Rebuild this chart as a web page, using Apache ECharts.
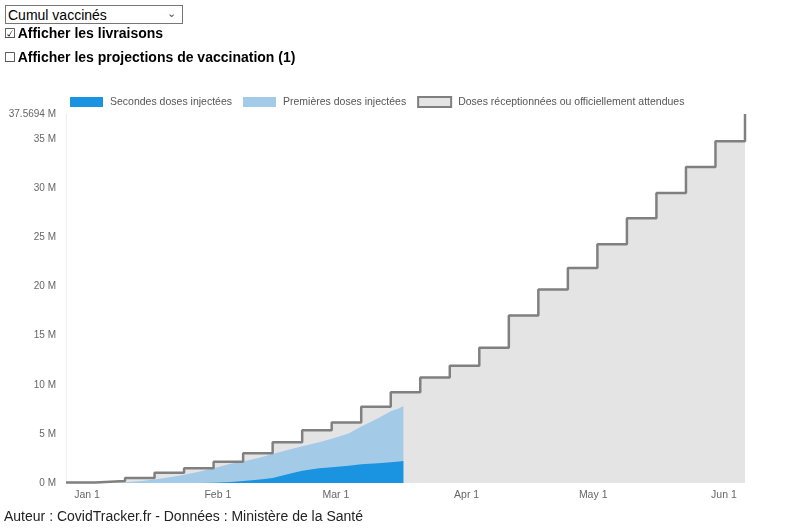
<!DOCTYPE html>
<html>
<head>
<meta charset="utf-8">
<script src="https://cdn.jsdelivr.net/npm/echarts@6/dist/echarts.min.js"></script>
<style>
body { margin: 0; font-family: "Liberation Sans", Arial, sans-serif; background: #fff; }
#main { position: absolute; left: 0; top: 0; width: 800px; height: 528px; }
.ctl { position: absolute; z-index: 2; font-size: 14px; color: #000; }
#mode { left: 5px; top: 5px; width: 178px; height: 19px; font-family: "Liberation Sans", Arial, sans-serif; font-size: 14px; padding: 0 0 0 2px; margin: 0; border: 1px solid #767676; border-radius: 0; background: #fff; -webkit-appearance: none; appearance: none; }
#chev { left: 167px; top: 7px; font-size: 11px; color: #555; font-family: "DejaVu Sans", sans-serif; }
label.ctl { left: 4px; font-weight: bold; height: 20px; line-height: 20px; }
.box { font-family: "DejaVu Sans", sans-serif; font-weight: normal; font-size: 13px; margin: 0 2px 0 0; color: #222; }
#source { left: 4px; top: 508px; color: #222; }
</style>
</head>
<body>
<div id="main"></div>
<select id="mode" class="ctl"><option>Cumul vaccinés</option></select>
<span id="chev" class="ctl">⌄</span>
<label class="ctl" style="top:23px"><span class="box">☑</span>Afficher les livraisons</label>
<label class="ctl" style="top:47px"><span class="box">☐</span>Afficher les projections de vaccination (1)</label>
<div id="source" class="ctl">Auteur : CovidTracker.fr - Données : Ministère de la Santé</div>
<script>
// livraisons (cumul, millions de doses), une marche par semaine
var deliveryDates = ['2020-12-27', '2021-01-03', '2021-01-10', '2021-01-17', '2021-01-24', '2021-01-31',
    '2021-02-07', '2021-02-14', '2021-02-21', '2021-02-28', '2021-03-07', '2021-03-14', '2021-03-21',
    '2021-03-28', '2021-04-04', '2021-04-11', '2021-04-18', '2021-04-25', '2021-05-02', '2021-05-09',
    '2021-05-16', '2021-05-23', '2021-05-30', '2021-06-06'];
var deliveries = [0.04, 0.2, 0.5, 1.05, 1.5, 2.17, 3.02, 4.14, 5.36, 6.17, 7.76, 9.23, 10.75,
    11.93, 13.76, 17.06, 19.7, 21.9, 24.31, 26.96, 29.53, 32.18, 34.79, 37.5694];

// injections (cumul, millions)
var vacDates = ['2020-12-27', '2021-01-03', '2021-01-07', '2021-01-10', '2021-01-14', '2021-01-17',
    '2021-01-21', '2021-01-24', '2021-01-28', '2021-01-31', '2021-02-04', '2021-02-07', '2021-02-11',
    '2021-02-14', '2021-02-18', '2021-02-21', '2021-02-25', '2021-02-28', '2021-03-04', '2021-03-07',
    '2021-03-11', '2021-03-14', '2021-03-16', '2021-03-17'];
var secondDoses = [0, 0, 0, 0, 0, 0, 0, 0, 0, 0.03, 0.1, 0.2, 0.35,
    0.5, 0.95, 1.25, 1.5, 1.6, 1.75, 1.9, 2.0, 2.1, 2.18, 2.24];
var firstDoses = [0, 0.002, 0.01, 0.08, 0.2, 0.35, 0.6, 0.85, 1.2, 1.47, 1.85, 2.0, 2.25,
    2.45, 2.45, 2.5, 2.65, 2.9, 3.3, 3.85, 4.6, 5.2, 5.42, 5.61];

var monthTicks = ['2021-01-01', '2021-02-01', '2021-03-01', '2021-04-01', '2021-05-01', '2021-06-01'];
var monthNames = ['Jan', 'Feb', 'Mar', 'Apr', 'May', 'Jun', 'Jul', 'Aug', 'Sep', 'Oct', 'Nov', 'Dec'];
var xStart = '2020-12-27', xEnd = '2021-06-06';

function ts(s) { return new Date(s + 'T00:00:00Z').getTime(); }
function pairs(dates, vals) {
    return dates.map(function(d, i) { return [ts(d), vals[i]]; });
}
// premières doses empilées au-dessus des secondes (axe x numérique, on empile à la main)
var stackedFirst = firstDoses.map(function(v, i) { return v + secondDoses[i]; });

var myChart = echarts.init(document.getElementById('main'));
var labelFont = {color: '#666', fontSize: 10, fontFamily: 'Liberation Sans'};
var option = {
    animation: false,
    textStyle: {fontFamily: 'Liberation Sans'},
    legend: {
        left: 65,
        top: 91,
        itemWidth: 33,
        itemHeight: 10,
        itemGap: 11,
        textStyle: {color: '#555', fontSize: 10.5, padding: [0, 0, 0, 2]},
        data: [
            {name: 'Secondes doses injectées', icon: 'rect', itemStyle: {color: '#1a94e0'}},
            {name: 'Premières doses injectées', icon: 'rect', itemStyle: {color: '#a3cbe8'}},
            {name: 'Doses réceptionnées ou officiellement attendues', icon: 'rect',
                itemStyle: {color: '#e4e4e4', borderColor: '#7f7f7f', borderWidth: 2}}
        ]
    },
    grid: {left: 66, right: 55, top: 114, bottom: 45},
    xAxis: {
        type: 'value',
        min: ts(xStart),
        max: ts(xEnd),
        axisLine: {show: false},
        axisTick: {show: false},
        splitLine: {show: false},
        axisLabel: Object.assign({
            customValues: monthTicks.map(ts),
            margin: 7,
            formatter: function(v) {
                var d = new Date(v);
                return monthNames[d.getUTCMonth()] + ' ' + d.getUTCDate();
            }
        }, labelFont, {fontSize: 10.5})
    },
    yAxis: {
        type: 'value',
        min: 0,
        max: 'dataMax',
        interval: 5,
        axisLine: {show: true, lineStyle: {color: '#eeeeee', width: 1}},
        axisTick: {show: false},
        splitLine: {show: false},
        axisLabel: Object.assign({
            margin: 10,
            formatter: function(v) { return v + ' M'; }
        }, labelFont)
    },
    series: [
        {
            name: 'Doses réceptionnées ou officiellement attendues',
            type: 'line',
            step: 'end',
            showSymbol: false,
            data: pairs(deliveryDates, deliveries),
            lineStyle: {color: '#808080', width: 2.5},
            itemStyle: {color: '#808080'},
            areaStyle: {color: '#e4e4e4', opacity: 1}
        },
        {
            name: 'Premières doses injectées',
            type: 'line',
            showSymbol: false,
            data: pairs(vacDates, stackedFirst),
            lineStyle: {width: 0},
            itemStyle: {color: '#a3cbe8'},
            areaStyle: {color: '#a3cbe8', opacity: 1}
        },
        {
            name: 'Secondes doses injectées',
            type: 'line',
            showSymbol: false,
            data: pairs(vacDates, secondDoses),
            lineStyle: {width: 0},
            itemStyle: {color: '#1a94e0'},
            areaStyle: {color: '#1a94e0', opacity: 1}
        }
    ]
};
myChart.setOption(option);
</script>
</body>
</html>
